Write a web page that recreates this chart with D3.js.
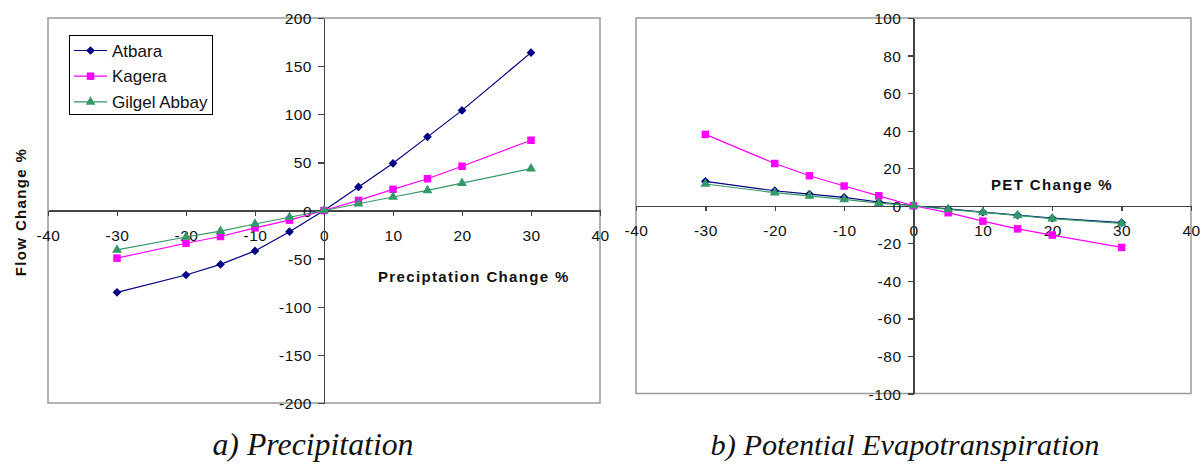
<!DOCTYPE html>
<html>
<head>
<meta charset="utf-8">
<script src="https://cdn.jsdelivr.net/npm/d3@7"></script>
<style>
  body { margin: 0; background: #fff; }
  svg { display: block; }
  .tick text { font-family: "Liberation Sans", Arial, sans-serif; font-size: 15.5px; fill: #111; letter-spacing: 0.5px; }
  .axis path, .axis line { stroke: #444; stroke-width: 1.3; shape-rendering: crispEdges; }
  .ttl { font-family: "Liberation Sans", Arial, sans-serif; font-size: 15px; font-weight: bold; letter-spacing: 1.35px; fill: #111; }
  .caption { font-family: "Liberation Serif", "Times New Roman", serif; font-style: italic; fill: #111; }
  .legend text { font-family: "Liberation Sans", Arial, sans-serif; font-size: 17px; fill: #111; }
</style>
</head>
<body>
<svg id="chart" width="1204" height="464"></svg>
<script>
"use strict";

// x values shared by every series (% change of the driver)
var changeSteps = [-30, -20, -15, -10, -5, 0, 5, 10, 15, 20, 30];

// a) flow change % against precipitation change %
var precipAtbara = [-85, -67, -56, -42, -22, 0, 24.5, 49, 76.5, 104, 164];
var precipKagera = [-49.5, -34, -27, -18, -10, 0, 10.5, 22, 33, 46, 73];
var precipGilgel = [-41, -27.5, -21.5, -14, -7, 0, 7, 14, 21, 28.5, 43.5];

// b) flow change % against PET change %
var petAtbara = [13, 8, 6.2, 4.5, 2, 0, -1.6, -3.4, -5, -6.6, -9];
var petKagera = [38, 22.5, 16, 10.5, 5.3, 0, -3.7, -8.2, -12.3, -15.6, -22.2];
var petGilgel = [11.6, 7, 5.3, 3.4, 1.4, 0, -1.9, -3.5, -5.1, -6.9, -9.4];

var seriesNames = ["Atbara", "Kagera", "Gilgel Abbay"];
var xTicks = [-40, -30, -20, -10, 0, 10, 20, 30, 40];
var precipYTicks = [-200, -150, -100, -50, 0, 50, 100, 150, 200];
var petYTicks = [-100, -80, -60, -40, -20, 0, 20, 40, 60, 80, 100];

var COLORS = { "Atbara": "#000080", "Kagera": "#ff00ff", "Gilgel Abbay": "#339966" };
var SHAPES = {
  "Atbara": d3.symbol().type(d3.symbolSquare).size(38),
  "Kagera": d3.symbol().type(d3.symbolSquare).size(56),
  "Gilgel Abbay": d3.symbol().type(d3.symbolTriangle).size(42)
};

var svg = d3.select("#chart");

function marker(sel, name) {
  sel.attr("d", SHAPES[name]())
    .attr("fill", COLORS[name]);
  if (name == "Atbara") {
    sel.attr("transform", function() { return d3.select(this).attr("transform") + " rotate(45)"; });
  }
}

function drawPanel(cfg) {
  var x = d3.scaleLinear().domain([-40, 40]).range([cfg.left, cfg.right]);
  var y = d3.scaleLinear().domain(cfg.yDomain).range([cfg.bottom, cfg.top]);
  var g = svg.append("g");

  // plot area frame
  g.append("rect")
    .attr("x", cfg.left).attr("y", cfg.top)
    .attr("width", cfg.right - cfg.left).attr("height", cfg.bottom - cfg.top)
    .attr("fill", "none").attr("stroke", "#999").attr("stroke-width", 1.5);

  var xAxis = g.append("g")
    .attr("class", "x axis")
    .attr("transform", "translate(0," + y(0) + ")")
    .call(d3.axisBottom(x).tickValues(xTicks).tickSize(5).tickSizeOuter(0).tickFormat(d3.format("d")));
  xAxis.selectAll(".tick text").attr("y", 30.5).attr("dy", 0);

  var yAxis = g.append("g")
    .attr("class", "y axis")
    .attr("transform", "translate(" + x(0) + ",0)")
    .call(d3.axisLeft(y).tickValues(cfg.yTicks).tickSize(6).tickSizeOuter(0).tickFormat(d3.format("d")));
  yAxis.selectAll(".tick text").attr("x", -12).attr("dy", "0.36em");
  g.selectAll(".axis text").text(function(d) { return d < 0 ? "-" + Math.abs(d) : d; });

  var line = d3.line()
    .x(function(d) { return x(d[0]); })
    .y(function(d) { return y(d[1]); });

  cfg.series.forEach(function(vals, i) {
    var name = seriesNames[i];
    var pts = changeSteps.map(function(s, j) { return [s, vals[j]]; });
    g.append("path")
      .datum(pts)
      .attr("d", line)
      .attr("fill", "none")
      .attr("stroke", COLORS[name])
      .attr("stroke-width", 1.2);
    g.selectAll(".m" + i)
      .data(pts)
      .enter().append("path")
        .attr("class", "m" + i)
        .attr("transform", function(d) { return "translate(" + x(d[0]) + "," + y(d[1]) + ")"; })
        .call(marker, name);
  });

  g.append("text")
    .attr("class", "ttl")
    .attr("x", cfg.xTitle[0]).attr("y", cfg.xTitle[1])
    .text(cfg.xTitle[2]);

  g.append("text")
    .attr("class", "caption")
    .attr("x", cfg.caption[0]).attr("y", 455)
    .attr("text-anchor", "middle")
    .style("font-size", cfg.caption[2] + "px")
    .text(cfg.caption[1]);

  return g;
}

drawPanel({
  left: 48, right: 600, top: 18, bottom: 403,
  yDomain: [-200, 200], yTicks: precipYTicks,
  series: [precipAtbara, precipKagera, precipGilgel],
  xTitle: [378, 282, "Preciptation Change %"],
  caption: [313, "a) Precipitation", 31.8]
});

drawPanel({
  left: 636, right: 1191, top: 18, bottom: 393.5,
  yDomain: [-100, 100], yTicks: petYTicks,
  series: [petAtbara, petKagera, petGilgel],
  xTitle: [991, 190, "PET Change %"],
  caption: [905, "b) Potential Evapotranspiration", 30.3]
});

// y axis title
svg.append("text")
  .attr("class", "ttl")
  .attr("transform", "translate(26,212) rotate(-90)")
  .attr("text-anchor", "middle")
  .text("Flow Change %");

// legend
var legend = svg.append("g").attr("class", "legend");
legend.append("rect")
  .attr("x", 69.5).attr("y", 35.5).attr("width", 143).attr("height", 79)
  .attr("fill", "#fff").attr("stroke", "#000").attr("stroke-width", 1);

var rows = legend.selectAll(".row")
  .data(seriesNames)
  .enter().append("g")
    .attr("class", "row")
    .attr("transform", function(d, i) { return "translate(0," + (50.5 + i * 25.7) + ")"; });

rows.append("line")
  .attr("x1", 74).attr("x2", 107)
  .attr("stroke", function(d) { return COLORS[d]; })
  .attr("stroke-width", 1.2);
rows.append("path")
  .attr("transform", "translate(90.5,0)")
  .each(function(d) { d3.select(this).call(marker, d); });
rows.append("text")
  .attr("x", 112).attr("y", 6)
  .text(function(d) { return d; });
</script>
</body>
</html>
